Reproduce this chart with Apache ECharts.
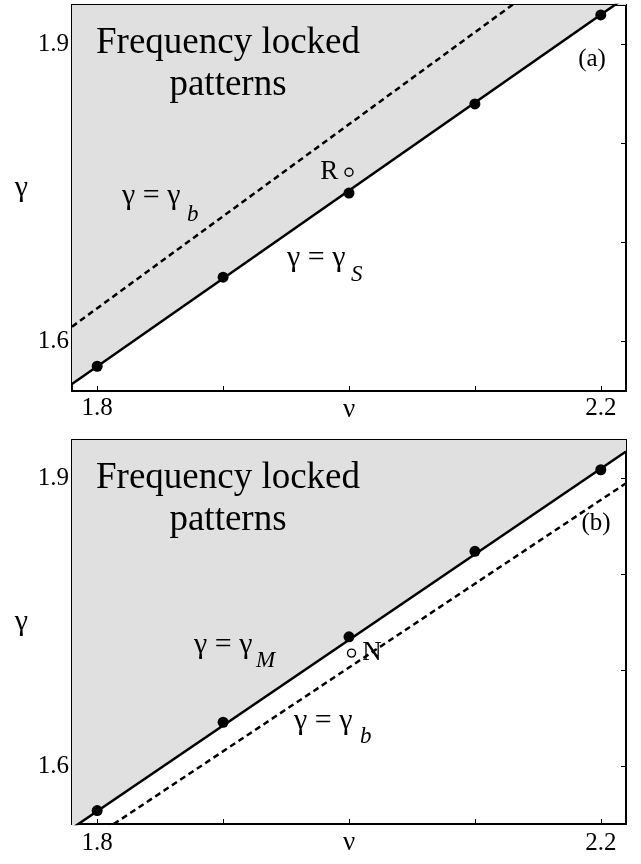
<!DOCTYPE html>
<html><head><meta charset="utf-8">
<script src="https://cdn.jsdelivr.net/npm/echarts@6/dist/echarts.min.js"></script>
<style>html,body{margin:0;padding:0;background:#fff}#c{width:641px;height:864px}</style>
</head><body><div id="c"></div>
<script>
// ---- data ----
const nuDots = [1.8, 1.9, 2.0, 2.1, 2.2];
const gammaSDots = [1.575, 1.665, 1.75, 1.84, 1.93];   // panel (a) dots on gamma_S
const gammaMDots = [1.554, 1.646, 1.735, 1.824, 1.909]; // panel (b) dots on gamma_M
const nuEnds = [1.78, 2.22];
const gammaSLine = [1.557, 1.948];   // panel (a) solid boundary
const gammaBLineA = [1.615, 2.024];  // panel (a) dashed gamma_b
const gammaMLine = [1.5355, 1.928];  // panel (b) solid boundary
const gammaBLineB = [1.511, 1.895];  // panel (b) dashed gamma_b
const pointR = [2.0, 1.771];
const pointN = [2.002, 1.718];
const xRange = [1.78, 2.22];
const yRangeA = [1.55, 1.94];
const yRangeB = [1.54, 1.94];
const xTicks = [1.8, 1.9, 2.0, 2.1, 2.2];
const xLabels = [1.8, 2.2];
const yTicks = [1.6, 1.7, 1.8, 1.9];
const yLabels = [1.6, 1.9];

const FONT = 'Liberation Serif';
const FILL = '#e0e0e0';
const pairs = (xs, ys) => xs.map((x, i) => [x, ys[i]]);

function xAxes(labelMargin) {
  const common = {
    type: 'value', min: xRange[0], max: xRange[1],
    axisLine: { show: true, lineStyle: { color: '#000', width: 2 } },
    axisTick: { show: true, inside: true, length: 5, customValues: xTicks, lineStyle: { color: '#000', width: 1 } },
    splitLine: { show: false }
  };
  return [
    Object.assign({}, common, {
      position: 'bottom',
      name: 'ν', nameLocation: 'middle', nameGap: 5, nameMoveOverlap: false,
      nameTextStyle: { fontFamily: FONT, fontSize: 27, color: '#000' },
      axisLabel: { show: true, customValues: xLabels, margin: labelMargin, fontFamily: FONT, fontSize: 25, color: '#000', formatter: v => v.toFixed(1) }
    }),
    Object.assign({}, common, { position: 'top', axisLabel: { show: false } })
  ];
}
function yAxes(range) {
  const common = {
    type: 'value', min: range[0], max: range[1],
    axisLine: { show: true, lineStyle: { color: '#000', width: 2 } },
    axisTick: { show: true, inside: true, length: 5, customValues: yTicks, lineStyle: { color: '#000', width: 1 } },
    splitLine: { show: false }
  };
  return [
    Object.assign({}, common, {
      position: 'left',
      name: 'γ', nameLocation: 'middle', nameGap: 44, nameRotate: 0, nameMoveOverlap: false,
      nameTextStyle: { fontFamily: FONT, fontSize: 30, lineHeight: 20, color: '#000', verticalAlign: 'bottom' },
      axisLabel: { show: true, customValues: yLabels, margin: 3, fontFamily: FONT, fontSize: 25, color: '#000', formatter: v => v.toFixed(1) }
    }),
    Object.assign({}, common, { position: 'right', axisLabel: { show: false } })
  ];
}

function panelSeries(ax, solid, dashed, dots, open, openLabel, openPos) {
  return [
    { type: 'line', xAxisIndex: ax, yAxisIndex: ax, data: pairs(nuEnds, solid), showSymbol: false, z: 2,
      lineStyle: { color: '#000', width: 2.5 }, areaStyle: { color: FILL, opacity: 1, origin: 'end' } },
    { type: 'line', xAxisIndex: ax, yAxisIndex: ax, data: pairs(nuEnds, dashed), showSymbol: false, z: 3,
      lineStyle: { color: '#000', width: 2.5, type: [6, 4] } },
    { type: 'scatter', xAxisIndex: ax, yAxisIndex: ax, data: pairs(nuDots, dots), symbolSize: 11, z: 4,
      itemStyle: { color: '#000', opacity: 1 } },
    { type: 'scatter', xAxisIndex: ax, yAxisIndex: ax, data: [open], symbolSize: 8, z: 4,
      itemStyle: { color: 'rgba(0,0,0,0)', borderColor: '#000', borderWidth: 1.4, opacity: 1 },
      label: { show: true, formatter: openLabel, position: openPos, distance: 6, fontFamily: FONT, fontSize: 27, color: '#000', opacity: 1 } }
  ];
}

function txt(x, y, text, size, opts) {
  return { type: 'text', x: x, y: y, z: 10, style: Object.assign({ text: text, fontFamily: FONT, fontSize: size, fill: '#000', verticalAlign: 'middle', align: 'left' }, opts || {}) };
}
const SUB = { fontStyle: 'italic' };

const chart = echarts.init(document.getElementById('c'), null, { renderer: 'canvas' });
chart.setOption({
  animation: false,
  backgroundColor: '#fff',
  grid: [
    { left: 72, top: 5, width: 554, height: 386 },
    { left: 72, top: 440, width: 554, height: 384 }
  ],
  xAxis: [].concat(xAxes(5), xAxes(7)).map((a, i) => Object.assign(a, { gridIndex: i < 2 ? 0 : 1 })),
  yAxis: [].concat(yAxes(yRangeA), yAxes(yRangeB)).map((a, i) => Object.assign(a, { gridIndex: i < 2 ? 0 : 1 })),
  series: [].concat(
    panelSeries(0, gammaSLine, gammaBLineA, gammaSDots, pointR, 'R', 'left'),
    panelSeries(2, gammaMLine, gammaBLineB, gammaMDots, pointN, 'N', 'right')
  ),
  graphic: [
    txt(228, 43, 'Frequency locked', 37, { align: 'center' }),
    txt(228, 85, 'patterns', 37, { align: 'center' }),
    txt(592, 59, '(a)', 25, { align: 'center' }),
    txt(122, 196, 'γ = γ', 30),
    txt(187, 215, 'b', 23, SUB),
    txt(287, 258, 'γ = γ', 30),
    txt(351, 275, 'S', 23, SUB),
    txt(228, 478, 'Frequency locked', 37, { align: 'center' }),
    txt(228, 520, 'patterns', 37, { align: 'center' }),
    txt(596, 523, '(b)', 25, { align: 'center' }),
    txt(194, 645, 'γ = γ', 30),
    txt(256, 661, 'M', 23, SUB),
    txt(294, 721, 'γ = γ', 30),
    txt(360, 737, 'b', 23, SUB)
  ]
});
</script></body></html>
